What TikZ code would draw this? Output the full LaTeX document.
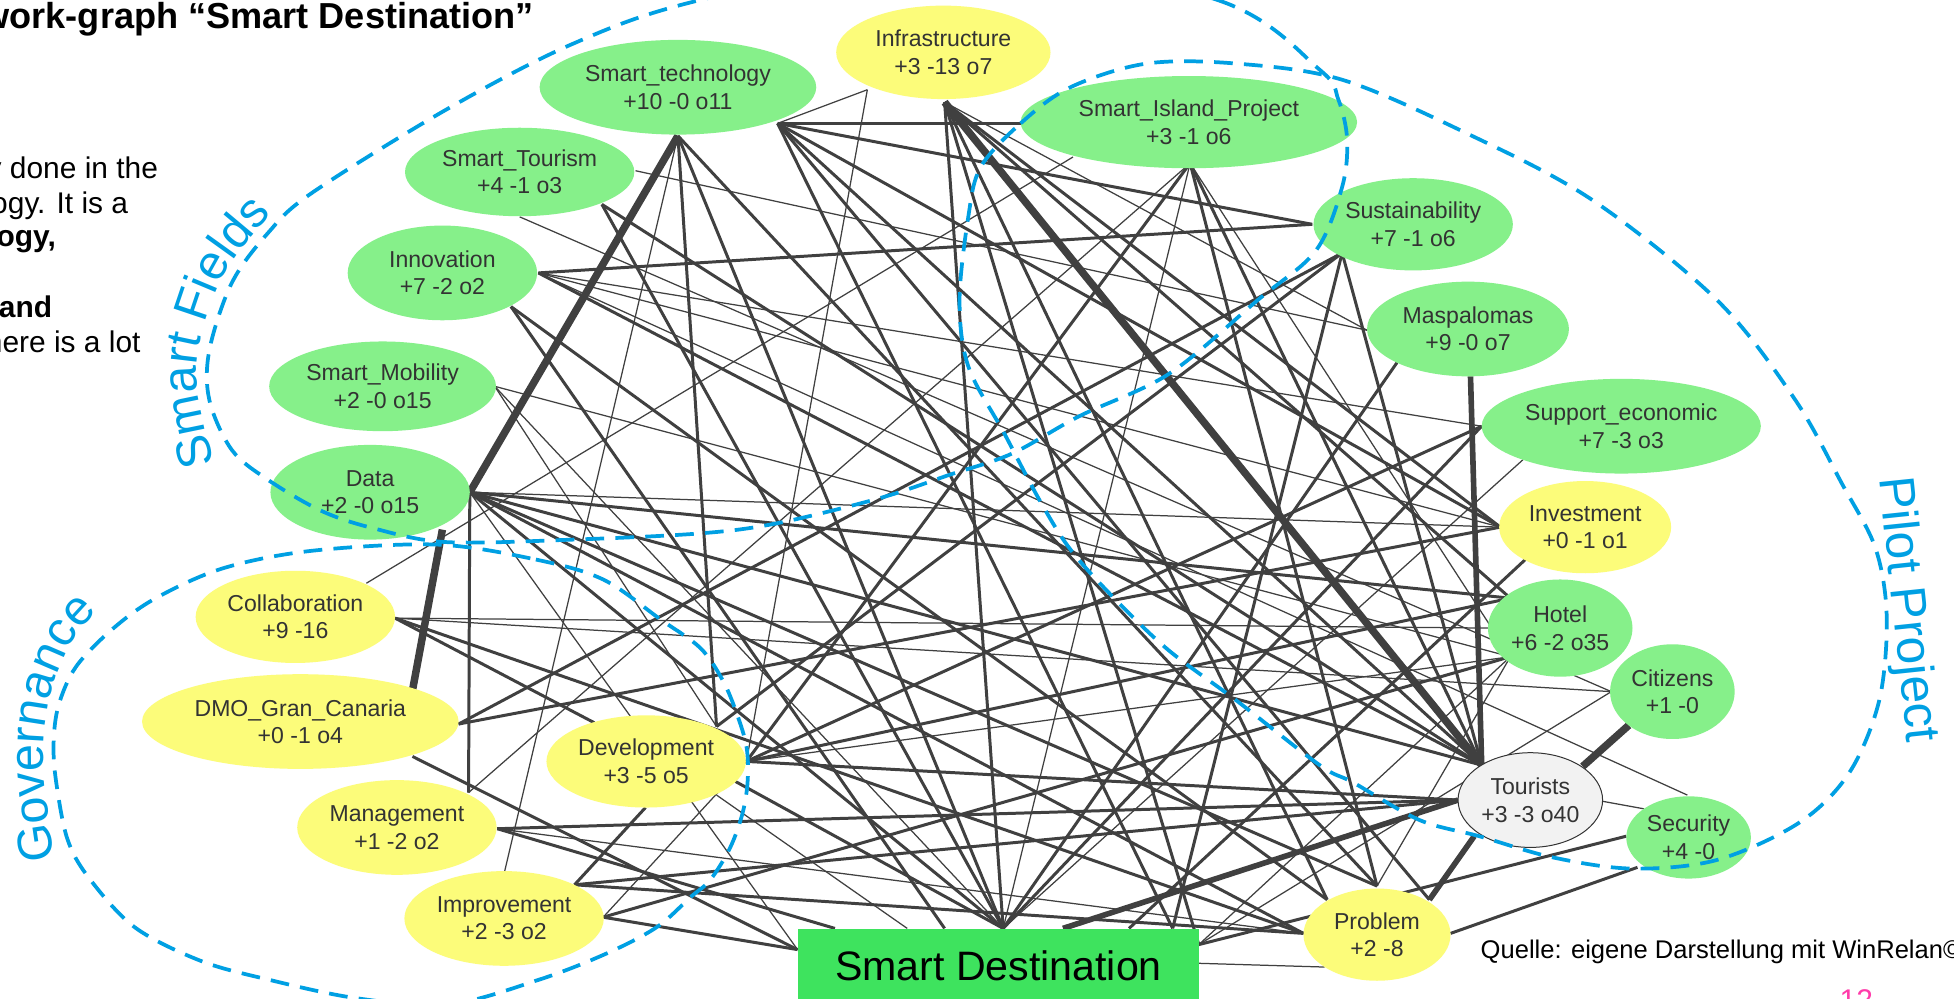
\documentclass[tikz,border=0pt]{standalone}
\usepackage{fontspec}
\setmainfont{Liberation Sans}
\usetikzlibrary{shapes.geometric,decorations.text}
\definecolor{ngreen}{RGB}{134,240,138}
\definecolor{nyellow}{RGB}{252,252,122}
\definecolor{ngrey}{RGB}{242,242,242}
\definecolor{edgec}{RGB}{64,64,64}
\definecolor{txtc}{RGB}{51,51,51}
\definecolor{grpc}{RGB}{0,160,227}
\definecolor{sdgreen}{RGB}{62,227,94}
\definecolor{pinkc}{RGB}{255,60,170}
\begin{document}
\begin{tikzpicture}[x=1pt,y=-1pt,
  elnode/.style={ellipse, inner sep=0pt, text=txtc, font=\fontsize{18.5}{22}\selectfont, align=center},
  gnode/.style={elnode, fill=ngreen},
  ynode/.style={elnode, fill=nyellow},
  tn/.style={draw=edgec, line width=1pt},
  md/.style={draw=edgec, line width=2.4pt},
  tk/.style={draw=edgec, line width=4.5pt},
  vt/.style={draw=edgec, line width=6pt},
  grpline/.style={draw=grpc, line width=3pt, dash pattern=on 15pt off 9pt},
  grplabel/.style={text=grpc, font=\fontsize{40}{44}\selectfont, inner sep=0pt},
  sidetext/.style={anchor=base east, font=\fontsize{24}{28}\selectfont, inner sep=0pt}
]
\useasboundingbox (0,0) rectangle (1568,801);
\clip (0,0) rectangle (1568,801);
\fill[white] (0,0) rectangle (1568,801);

% ports
\coordinate (STb) at (544,109); \coordinate (STr) at (624,99);
\coordinate (INFb) at (758,82); \coordinate (INFl) at (696,72);
\coordinate (SIPl) at (819,99); \coordinate (SIPb) at (955,131); \coordinate (SIPll) at (861,126);
\coordinate (STor) at (510,137); \coordinate (STolr) at (483,164); \coordinate (STob) at (417,174);
\coordinate (INNr) at (432,219); \coordinate (INNlr) at (410,246);
\coordinate (SMr) at (397,310);
\coordinate (Dr) at (377,395); \coordinate (Db) at (355,425);
\coordinate (SUSl) at (1053,180); \coordinate (SUSbl) at (1077,203);
\coordinate (MASb) at (1180,302); \coordinate (MASl) at (1097,265); \coordinate (MASll) at (1121,291);
\coordinate (SEl) at (1189,342); \coordinate (SEll) at (1222,369);
\coordinate (INVl) at (1204,423); \coordinate (INVb) at (1224,449);
\coordinate (HOTul) at (1212,480); \coordinate (HOTl) at (1196,504); \coordinate (HOTll) at (1212,527);
\coordinate (CITl) at (1293,555); \coordinate (CITbl) at (1307,582);
\coordinate (TOUt) at (1189,614); \coordinate (TOUl) at (1170,642); \coordinate (TOUbl) at (1183,671);
\coordinate (TOUr) at (1286,643); \coordinate (TOUur) at (1270,615);
\coordinate (SECt) at (1354,638); \coordinate (SECl) at (1305,671); \coordinate (SECul) at (1319,649); \coordinate (SECbl) at (1314,696);
\coordinate (PROt) at (1105,711); \coordinate (PROl) at (1046,749); \coordinate (PROul) at (1065,722);
\coordinate (PROr) at (1164,749); \coordinate (PROur) at (1147,722); \coordinate (PROll) at (1063,776);
\coordinate (SDt) at (805,745); \coordinate (SDl) at (640,762); \coordinate (SDr) at (962,758); \coordinate (SDr2) at (962,773);
\coordinate (SDa) at (758,745); \coordinate (SDb) at (853,745); \coordinate (SDc) at (670,745);
\coordinate (SDd) at (906,745); \coordinate (SDe) at (941,745); \coordinate (SDf) at (728,745);
\coordinate (DEVt) at (575,583); \coordinate (DEVr) at (599,611); \coordinate (DEVb) at (518,648);
\coordinate (DEVbr) at (590,627); \coordinate (DEVb2) at (575,638); \coordinate (DEVul) at (477,580);
\coordinate (COLur) at (294,468); \coordinate (COLr) at (317,496);
\coordinate (DMOt) at (331,554); \coordinate (DMOr) at (368,581); \coordinate (DMObr) at (331,607);
\coordinate (MANt) at (376,636); \coordinate (MANr) at (399,665);
\coordinate (IMPt) at (405,699); \coordinate (IMPur) at (461,710); \coordinate (IMPr) at (484,736);

% connectors
\foreach \a/\b in {STb/IMPt, STr/INFl, STor/MASl, STob/CITl, INNr/SEl, INNr/INVl, INNr/SECt,
  SMr/DEVt, SMr/HOTll, SMr/SDt, Dr/INVl, Dr/SDl, COLur/SIPll, COLr/HOTl, COLr/CITl, MANr/PROl,
  MANt/SIPb, IMPr/DEVr, INFb/MASl, INFl/DEVr, SIPb/SDt, SIPb/HOTll, SEll/SDt, HOTll/PROt,
  HOTll/SDr, CITl/SDr, TOUr/SECul, SDr2/PROll, DEVr/HOTll, DEVb2/SDf}
  \draw[tn] (\a) -- (\b);
\foreach \a/\b in {STb/DEVt, STb/SDt, STb/PROt, STr/SIPl, STr/SUSl, STr/INVl, STr/TOUt, STr/PROur,
  STr/SDe, STolr/SDt, STolr/TOUt, INNr/SUSl, INNr/TOUt, INNlr/SDa, INNlr/PROul, Dr/MANt, Dr/HOTul,
  Dr/TOUt, Dr/PROt, Dr/SDt, Dr/PROl, COLr/PROl, COLr/DEVul, DMOr/INVl, DMObr/SDl, MANr/TOUl,
  MANr/SDc, IMPur/DEVb, IMPur/TOUl, IMPur/PROl, IMPr/HOTll, IMPr/SDl, INFb/SDt, INFb/SDr,
  INFb/PROul, INFb/INVl, INFb/HOTul, SIPb/PROt, SIPb/TOUt, SIPb/DEVr, SUSbl/TOUt, SUSbl/SDe,
  SUSbl/DMOr, SUSbl/DEVt, MASll/SDt, SEl/SDt, SEl/DEVr, INVb/SDd, SDr/SECl, PROr/SECbl,
  DEVr/HOTul, DEVr/TOUl, DEVbr/SDt}
  \draw[md] (\a) -- (\b);
\foreach \a/\b in {MASb/TOUt, TOUbl/PROur, TOUl/SDb}
  \draw[tk] (\a) -- (\b);
\foreach \a/\b in {STb/Dr, Db/DMOt, INFb/TOUt, CITbl/TOUur}
  \draw[vt] (\a) -- (\b);

% nodes
\node[ynode, minimum width=172pt, minimum height=75pt] (INF) at (757,42) {Infrastructure\\+3 -13 o7};
\node[gnode, minimum width=222pt, minimum height=76pt] (ST) at (544,70) {Smart\_technology\\+10 -0 o11};
\node[gnode, minimum width=270pt, minimum height=74pt] (SIP) at (954,98) {Smart\_Island\_Project\\+3 -1 o6};
\node[gnode, minimum width=184pt, minimum height=71pt] (STo) at (417,138) {Smart\_Tourism\\+4 -1 o3};
\node[gnode, minimum width=152pt, minimum height=76pt] (INN) at (355,219) {Innovation\\+7 -2 o2};
\node[gnode, minimum width=182pt, minimum height=72pt] (SM) at (307,310) {Smart\_Mobility\\+2 -0 o15};
\node[gnode, minimum width=160pt, minimum height=76pt] (DATA) at (297,395) {Data\\+2 -0 o15};
\node[gnode, minimum width=160pt, minimum height=74pt] (SUS) at (1134,180) {Sustainability\\+7 -1 o6};
\node[gnode, minimum width=162pt, minimum height=76pt] (MAS) at (1178,264) {Maspalomas\\+9 -0 o7};
\node[gnode, minimum width=224pt, minimum height=76pt] (SE) at (1301,342) {Support\_economic\\+7 -3 o3};
\node[ynode, minimum width=138pt, minimum height=74pt] (INV) at (1272,423) {Investment\\+0 -1 o1};
\node[gnode, minimum width=116pt, minimum height=78pt] (HOT) at (1252,504) {Hotel\\+6 -2 o35};
\node[gnode, minimum width=100pt, minimum height=76pt] (CIT) at (1342,555) {Citizens\\+1 -0};
\node[elnode, fill=ngrey, draw=txtc, line width=0.8pt, minimum width=116pt, minimum height=76pt] (TOU) at (1228,642) {Tourists\\+3 -3 o40};
\node[gnode, minimum width=100pt, minimum height=66pt] (SEC) at (1355,672) {Security\\+4 -0};
\node[ynode, minimum width=118pt, minimum height=74pt] (PRO) at (1105,750) {Problem\\+2 -8};
\node[ynode, minimum width=160pt, minimum height=74pt] (DEV) at (518.5,611) {Development\\+3 -5 o5};
\node[ynode, minimum width=160pt, minimum height=74pt] (COL) at (237,495) {Collaboration\\+9 -16};
\node[ynode, minimum width=254pt, minimum height=76pt] (DMO) at (241,579) {DMO\_Gran\_Canaria\\+0 -1 o4};
\node[ynode, minimum width=160pt, minimum height=76pt] (MAN) at (318.5,664) {Management\\+1 -2 o2};
\node[ynode, minimum width=160pt, minimum height=76pt] (IMP) at (404.5,737) {Improvement\\+2 -3 o2};
\node[fill=sdgreen, minimum width=322pt, minimum height=60pt, inner sep=0pt, anchor=north west,
  font=\fontsize{33}{38}\selectfont, text=black] (SD) at (640,745) {\raisebox{-4pt}{Smart Destination}};

% group outlines
\draw[grpline] plot[smooth cycle, tension=0.55] coordinates {
  (770,-40) (977,0) (1059,56) (1074,80) (1081,112) (1077,150) (1056,201) (1009,241) (938,300)
  (866,334) (812,364) (762,381) (705,400) (623,420) (562,428) (460,433) (358,435) (300,424)
  (258,410) (215,385) (186,361) (168,321) (168,281) (186,227) (215,187) (250,155) (358,88)
  (460,35) (562,0)};
\draw[grpline] plot[smooth cycle, tension=0.55] coordinates {
  (787,134) (819,99) (859,70) (920,51) (992,51) (1077,64) (1177,107) (1277,160) (1378,241)
  (1440,320) (1478,388) (1505,440) (1514,495) (1508,562) (1484,620) (1444,660) (1378,690)
  (1310,697) (1246,688) (1187,671) (1139,658) (1086,628) (1059,614) (992,562) (938,522)
  (895,481) (859,441) (834,401) (806,348) (777,294) (770,241) (777,174)};
\draw[grpline] plot[smooth cycle, tension=0.55] coordinates {
  (351,437) (430,449) (484,465) (530,497) (562,520) (580,546) (591,572) (599,599) (600,626)
  (596,652) (586,680) (570,706) (554,720) (527,744) (487,765) (433,786) (360,806) (286,801)
  (215,786) (161,771) (108,744) (71,704) (54,673) (45,627) (43,596) (47,566) (61,535) (90,505)
  (125,480) (179,456) (250,442)};

% group labels
\path[decorate, decoration={text along path, text align=left,
  text={|\fontsize{39}{43}\selectfont\color{grpc}|Smart Fields}}]
  plot[smooth, tension=0.6] coordinates {(172,372) (160,321) (160,279) (178,224) (207,184) (242,151) (285,122) (330,100)};
\path[decorate, decoration={text along path, text align=left,
  text={|\fontsize{39}{43}\selectfont\color{grpc}|Governance}}]
  plot[smooth, tension=0.6] coordinates {(44,690) (38,648) (35,610) (37,575) (45,543) (60,512) (83,486) (112,463) (145,447)};
\node[grplabel, rotate=-84, anchor=base west] (lblPP) at (1508,384) {Pilot Project};

% texts
\node[anchor=base west, inner sep=0pt, font=\bfseries\fontsize{29}{33}\selectfont, text=black] (title) at (-15,23) {work-graph “Smart Destination”};
\node[sidetext] (t1) at (127,143) {y done in the};
\node[sidetext] (t2) at (103,171) {ogy. It is a};
\node[sidetext, font=\bfseries\fontsize{24}{28}\selectfont] (t3) at (45,198) {ogy,};
\node[sidetext, font=\bfseries\fontsize{24}{28}\selectfont] (t4) at (42,255) {and};
\node[sidetext] (t5) at (113,283) {here is a lot};
\node[anchor=base west, inner sep=0pt, font=\fontsize{20.5}{24}\selectfont, text=black] (src) at (1188,769) {Quelle: eigene Darstellung mit WinRelan©};
\node[anchor=base west, inner sep=0pt, font=\fontsize{24}{28}\selectfont, text=pinkc] (pg) at (1476,811) {12};
\end{tikzpicture}
\end{document}
